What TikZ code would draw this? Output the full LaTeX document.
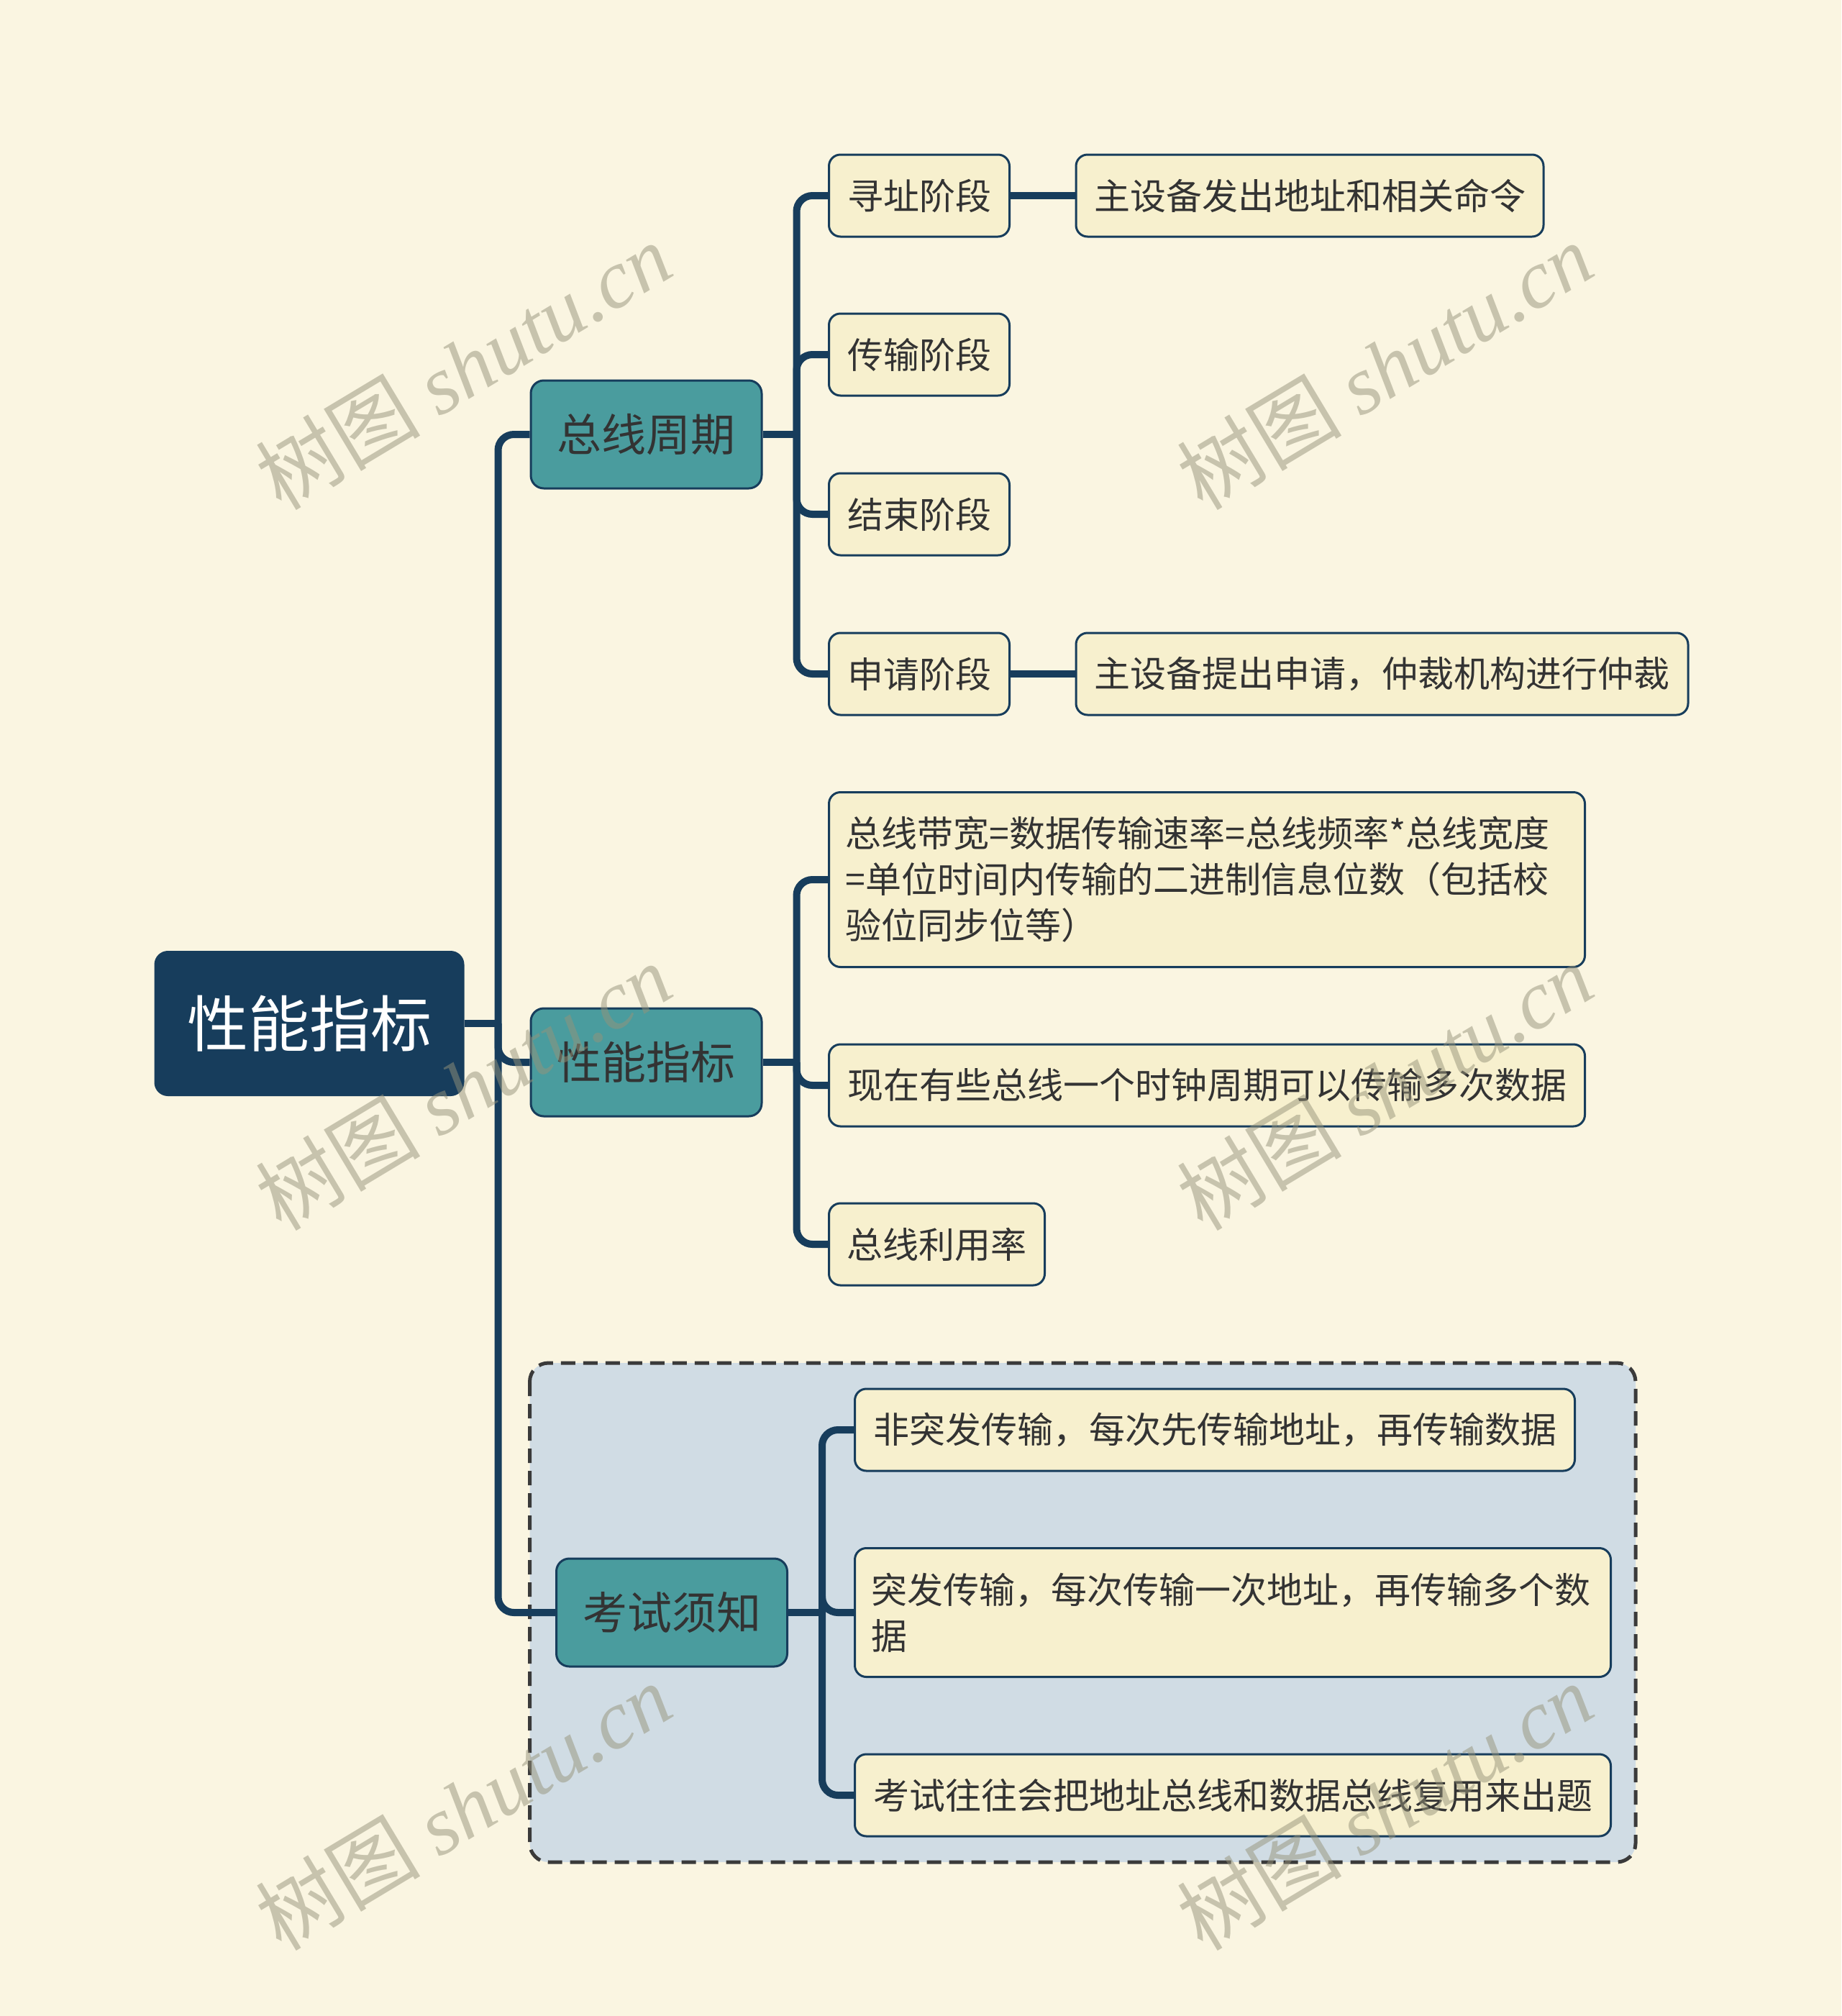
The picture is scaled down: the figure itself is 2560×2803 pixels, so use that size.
\documentclass[tikz,border=0pt]{standalone}
\usepackage{fontspec}
\setmainfont{Noto Sans CJK SC}
\newfontfamily\wmlatin{Liberation Serif}
\usetikzlibrary{calc}
\definecolor{bgc}{HTML}{FAF5E1}
\definecolor{navy}{HTML}{173D5C}
\definecolor{tealc}{HTML}{4A9C9E}
\definecolor{leafc}{HTML}{F7F0CE}
\definecolor{txtc}{HTML}{333333}
\definecolor{boxfill}{HTML}{D0DCE4}
\definecolor{dashc}{HTML}{3A3A3A}
\definecolor{wmc}{HTML}{96937A}
\pgfdeclarelayer{back}
\pgfsetlayers{back,main}
\begin{document}
\begin{tikzpicture}[x=1pt,y=-1pt,
 conn/.style={draw=navy, line width=10pt, rounded corners=22pt},
 rootbox/.style={fill=navy, draw=navy, line width=2pt, rounded corners=18pt, text=white,
   font=\fontsize{85}{100}\selectfont, minimum width=429pt, minimum height=200pt, anchor=west, inner sep=0pt},
 topicbox/.style={fill=tealc, draw=navy, line width=3pt, rounded corners=18pt, text=txtc,
   font=\fontsize{62}{75}\selectfont, minimum width=321pt, minimum height=150pt, anchor=west, inner sep=0pt},
 leafbox/.style={fill=leafc, draw=navy, line width=3pt, rounded corners=16pt, text=txtc,
   font=\fontsize{50}{64}\selectfont, minimum height=114pt, anchor=west, inner xsep=20pt, inner ysep=0pt},
 multibox/.style={leafbox, inner xsep=23pt, text width=1005pt, align=left},
 wmark/.style={text=wmc, opacity=0.5, rotate=31, font=\fontsize{115}{115}\selectfont}
]
\useasboundingbox (0,0) rectangle (2560,2803);

% nodes
\node[rootbox] (root) at (214.5,1423) {性能指标};
\node[topicbox] (t1) at (736.5,604) {总线周期};
\node[topicbox] (t2) at (736.5,1477) {性能指标};
\node[topicbox] (t3) at (772,2242) {考试须知};

\node[leafbox, minimum width=251pt] (a1) at (1151,272) {寻址阶段};
\node[leafbox, minimum width=251pt] (a2) at (1151,493) {传输阶段};
\node[leafbox, minimum width=251pt] (a3) at (1151,715) {结束阶段};
\node[leafbox, minimum width=251pt] (a4) at (1151,937) {申请阶段};
\node[leafbox, minimum width=650pt] (b1) at (1494.5,272) {主设备发出地址和相关命令};
\node[leafbox, minimum width=851pt] (b4) at (1494.5,937) {主设备提出申请，仲裁机构进行仲裁};

\node[multibox, minimum height=243pt] (c1) at (1151,1223) {总线带宽=数据传输速率=总线频率*总线宽度\\=单位时间内传输的二进制信息位数（包括校\\验位同步位等）};
\node[leafbox, minimum width=1051pt] (c2) at (1151,1509) {现在有些总线一个时钟周期可以传输多次数据};
\node[leafbox, minimum width=300pt] (c3) at (1151,1730) {总线利用率};

\node[leafbox, minimum width=1001pt] (d1) at (1187,1988) {非突发传输，每次先传输地址，再传输数据};
\node[multibox, minimum height=179pt] (d2) at (1187,2242) {突发传输，每次传输一次地址，再传输多个数\\据};
\node[leafbox, minimum width=1051pt] (d3) at (1187,2496) {考试往往会把地址总线和数据总线复用来出题};

\coordinate (j0) at ([xshift=47pt]root.east);
\coordinate (j1) at ([xshift=47pt]t1.east);
\coordinate (j2) at ([xshift=47pt]t2.east);
\coordinate (j3) at ([xshift=47pt]t3.east);

\begin{pgfonlayer}{back}
  \fill[bgc] (0,0) rectangle (2560,2803);
  \draw[fill=boxfill, draw=dashc, line width=5pt, dash pattern=on 20pt off 11pt, rounded corners=26pt]
    (736.5,1895) rectangle (2274,2589);
  % root to topics
  \draw[conn] (root.east) -- (j0);
  \draw[conn] (j0) |- (t1.west);
  \draw[conn] (j0) |- (t2.west);
  \draw[conn] (j0) |- (t3.west);
  % topic 1
  \draw[conn] (t1.east) -- (j1);
  \draw[conn] (j1) |- (a1.west);
  \draw[conn] (j1) |- (a2.west);
  \draw[conn] (j1) |- (a3.west);
  \draw[conn] (j1) |- (a4.west);
  \draw[conn] (a1.east) -- (b1.west);
  \draw[conn] (a4.east) -- (b4.west);
  % topic 2
  \draw[conn] (t2.east) -- (j2);
  \draw[conn] (j2) |- (c1.west);
  \draw[conn] (j2) |- (c2.west);
  \draw[conn] (j2) |- (c3.west);
  % topic 3
  \draw[conn] (t3.east) -- (j3);
  \draw[conn] (j3) |- (d1.west);
  \draw[conn] (j3) |- (d2.west);
  \draw[conn] (j3) |- (d3.west);
\end{pgfonlayer}

% watermarks
\node[wmark] (w1) at (644,509) {树图 {\wmlatin\itshape shutu.cn}};
\node[wmark] (w2) at (1925,509) {树图 {\wmlatin\itshape shutu.cn}};
\node[wmark] (w3) at (644,1511) {树图 {\wmlatin\itshape shutu.cn}};
\node[wmark] (w4) at (1925,1511) {树图 {\wmlatin\itshape shutu.cn}};
\node[wmark] (w5) at (644,2512) {树图 {\wmlatin\itshape shutu.cn}};
\node[wmark] (w6) at (1925,2512) {树图 {\wmlatin\itshape shutu.cn}};
\end{tikzpicture}
\end{document}
